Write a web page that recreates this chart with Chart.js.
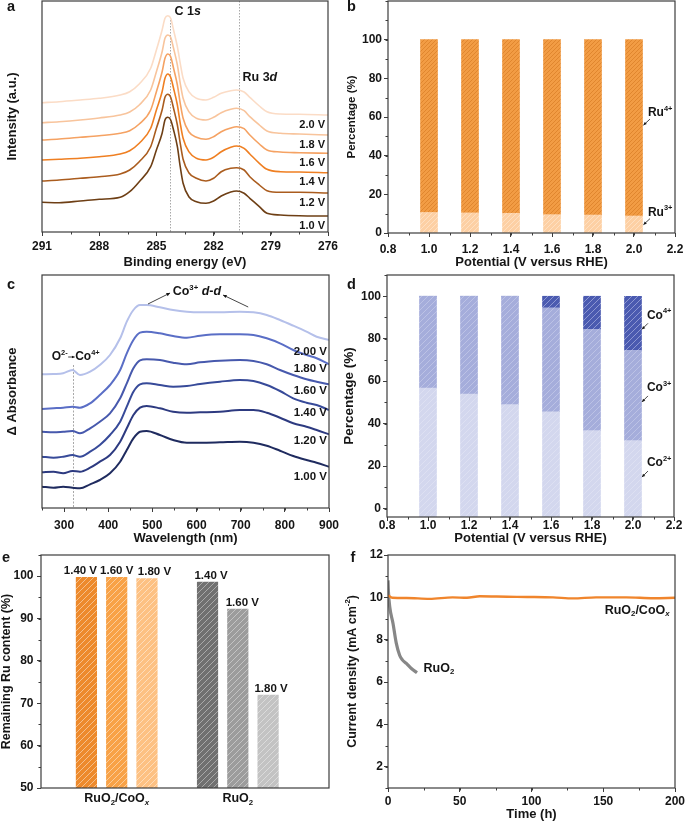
<!DOCTYPE html>
<html>
<head>
<meta charset="utf-8">
<script src="https://cdn.jsdelivr.net/npm/chart.js@4.4.1/dist/chart.umd.min.js"></script>
<style>
  body { margin: 0; background: #fff; }
  #fig { position: relative; width: 685px; height: 821px; overflow: hidden; background: #fff; }
  #fig canvas { position: absolute; }
</style>
</head>
<body>
<div id="fig">
  <canvas id="chartA" width="340" height="270" style="left:0;top:0"></canvas>
  <canvas id="chartB" width="345" height="270" style="left:340px;top:0"></canvas>
  <canvas id="chartC" width="340" height="275" style="left:0;top:270px"></canvas>
  <canvas id="chartD" width="345" height="275" style="left:340px;top:270px"></canvas>
  <canvas id="chartE" width="340" height="276" style="left:0;top:545px"></canvas>
  <canvas id="chartF" width="345" height="276" style="left:340px;top:545px"></canvas>
</div>
<script>
// ---- a : XPS C 1s / Ru 3d (a.u.) ----
const xpsEnergy = [291, 290.1, 289, 288, 286.9, 286.4, 285.9, 285.3, 285, 284.7, 284.55, 284.4, 284.25, 284.1, 283.9, 283.75,
                   283.6, 283.3, 282.9, 282.4, 282, 281.6, 281.1, 280.8, 280.4, 280.1, 279.6, 279.2, 278.5, 277.5, 276];
const xpsPotentials = ['1.0 V', '1.2 V', '1.4 V', '1.6 V', '1.8 V', '2.0 V'];
const xps10 = [29.7, 29.3, 31, 32.7, 34.7, 40.3, 50.3, 65.3, 82, 98.7, 112, 114.7, 112, 102, 85.3, 65.3,
               48.7, 35.3, 30.3, 28.7, 31, 36, 40, 41, 38.7, 33.7, 25.3, 18.7, 17, 16.3, 16];
const xps12 = [51, 52, 53.7, 55.3, 58, 62, 70.3, 85.3, 103.7, 122, 134.7, 137.7, 134.7, 123.7, 107, 88.7,
               72.7, 59.3, 53.7, 51, 53.7, 60.3, 63.7, 64.3, 62, 55.3, 47, 41.3, 39.7, 39.7, 39];
const xps14 = [72, 72.7, 73.7, 75.3, 78, 81.3, 88.7, 103.7, 122, 140.3, 153.7, 158, 154.7, 143.7, 127, 108.7,
               93.7, 80.3, 73.7, 72, 74.7, 80.3, 84.7, 86, 83.7, 78, 68.7, 62.7, 60.3, 60, 59.3];
const xps16 = [92, 93, 94.7, 96.3, 98.7, 101.3, 108, 122, 140.3, 160.3, 173.7, 178, 175.3, 163.7, 147, 128.7,
               113.7, 100.3, 94.7, 92.7, 95.3, 100.3, 104, 105.3, 103.3, 97, 88, 82, 80, 79.3, 78.7];
const xps18 = [109.3, 110.3, 112, 114, 117, 120, 127, 142, 160.3, 180.3, 193.7, 197, 194.7, 183.7, 167, 148.7,
               133.7, 120.3, 113.7, 112, 114.7, 119.3, 122.7, 123.7, 121.3, 115.3, 107, 101, 98.7, 98, 97];
const xps20 = [129.3, 130.3, 132, 133.7, 137, 140.3, 148, 163.7, 182, 202, 213.7, 216.3, 213.7, 202, 185.3, 168.7,
               153.7, 140.3, 133.7, 132, 134.7, 138.7, 141.3, 142, 140, 134.7, 126, 120.3, 118, 117.7, 117];
const xpsTicks = [291, 288, 285, 282, 279, 276];

// ---- b : Ru valence share (%) ----
const rhePotential = [1.0, 1.2, 1.4, 1.6, 1.8, 2.0];
const rheTicks = [0.8, 1.0, 1.2, 1.4, 1.6, 1.8, 2.0, 2.2];
const ru3Share = [10.6, 10.4, 10.2, 9.5, 9.3, 8.8];
const ru4Share = [89.4, 89.6, 89.8, 90.5, 90.7, 91.2];
const shareTicks = [0, 20, 40, 60, 80, 100];

// ---- c : UV-vis difference spectra ----
const uvWavelength = [250, 276, 298, 319, 336, 359, 381, 404, 427, 442, 457, 472, 487,
                      517, 547, 578, 608, 653, 698, 729, 759, 789, 819, 849, 872, 900];
const uvPotentials = ['1.00 V', '1.20 V', '1.40 V', '1.60 V', '1.80 V', '2.00 V'];
const uv100 = [21.3, 20.3, 21.3, 20.3, 19.7, 23.7, 28, 34.7, 46.3, 58, 69.7, 76.3, 77,
               73, 68, 65.3, 65.3, 65.7, 66.3, 65.3, 62.3, 57.3, 52, 48, 45.3, 41.3];
const uv120 = [35.7, 36.3, 34.7, 37, 36.3, 40.3, 46.3, 53, 66.3, 79.7, 93, 100.3, 102,
               99.7, 96.3, 95.3, 95.7, 96.3, 98, 98, 95.3, 90.3, 84.7, 81.3, 78, 73.7];
const uv140 = [51.3, 50.3, 51.3, 53, 51.3, 56.3, 63, 73, 86.3, 101.3, 116.3, 123.7, 124.7,
               123, 121.3, 122, 124, 126.3, 128, 127, 123, 117, 109.7, 105.3, 103, 98];
const uv160 = [76.3, 75.7, 76.3, 77, 74.7, 79.7, 86.3, 94.7, 109.7, 124.7, 139.7, 147.7, 148.7,
               148, 145.3, 143.7, 145.7, 147.3, 148, 147, 143.7, 138, 133, 128.7, 126.3, 123.7];
const uv180 = [99, 99.7, 100.3, 101.3, 100.3, 104.7, 113, 123, 138, 154.7, 168, 175.3, 176.3,
               174.7, 172, 170.3, 172.3, 173.7, 173.7, 173, 169.7, 164.7, 158, 153, 149.7, 143.7];
const uv200 = [133.7, 134, 134.7, 138, 133, 136.3, 143, 153, 169.7, 186.3, 198, 203, 203,
               200.7, 198, 196.3, 195.7, 195.7, 196.3, 195.7, 193, 188, 182.3, 176.3, 171.3, 168];
const uvTicks = [300, 400, 500, 600, 700, 800, 900];

// ---- d : Co valence share (%) ----
const co2Share = [56.7, 53.9, 48.9, 45.6, 36.7, 32.0];
const co3Share = [43.3, 46.1, 51.1, 48.9, 47.7, 42.5];
const co4Share = [0, 0, 0, 5.5, 15.6, 25.5];

// ---- e : remaining Ru (%) ----
const eGroups = ['RuO_{2}/CoO_{*x*}', 'RuO_{2}'];
const ePotentials = ['1.40 V', '1.60 V', '1.80 V'];
const ruCoRemaining = [99.8, 99.8, 99.5];
const ruO2Remaining = [98.7, 92.3, 72.0];
const remainTicks = [50, 60, 70, 80, 90, 100];

// ---- f : chronopotentiometry ----
const ruCoTime = [0, 3, 13, 29, 45, 55, 64, 83, 97, 115, 129, 145, 166, 185, 200];
const ruCoCurrent = [10.1, 9.98, 9.97, 9.93, 10.0, 9.98, 10.05, 10.03, 10.02, 10.0, 9.95, 10.0, 10.0, 9.96, 9.98];
const ruO2Time = [0, 0.3, 1.2, 3.5, 5.8, 8.1, 10, 12.8, 16.3, 20.2];
const ruO2Current = [10.8, 10.26, 9.56, 8.77, 7.83, 7.27, 7.05, 6.88, 6.64, 6.44];
const timeTicks = [0, 50, 100, 150, 200];
const currentTicks = [2, 4, 6, 8, 10, 12];

const AXIS = '#3c3c3c';
const TEXT = '#151515';
const FONT = "'Liberation Sans', Arial, sans-serif";
Chart.defaults.font.family = FONT;
Chart.defaults.color = TEXT;

// little markup: _{sub} ^{sup} *italic*
function parseRich(str) {
  const parts = [];
  const re = /(_\{[^}]*\}|\^\{[^}]*\}|\*[^*]*\*)/g;
  let last = 0, m;
  while ((m = re.exec(str))) {
    if (m.index > last) parts.push({t: str.slice(last, m.index)});
    const tok = m[0];
    if (tok[0] === '*') {
      parts.push({t: tok.slice(1, -1), it: true});
    } else {
      let inner = tok.slice(2, -1), it = false;
      if (inner[0] === '*') { inner = inner.slice(1, -1); it = true; }
      parts.push({t: inner, it: it, pos: tok[0] === '_' ? 'sub' : 'sup'});
    }
    last = re.lastIndex;
  }
  if (last < str.length) parts.push({t: str.slice(last)});
  return parts;
}

function richText(ctx, str, x, y, size, align, rot) {
  const parts = parseRich(str);
  const fontOf = p => (p.it ? 'italic ' : '') + 'bold ' + (p.pos ? size * 0.62 : size) + 'px ' + FONT;
  let w = 0;
  parts.forEach(p => { ctx.font = fontOf(p); p.w = ctx.measureText(p.t).width; w += p.w; });
  ctx.save();
  ctx.translate(x, y);
  if (rot) ctx.rotate(rot);
  let cx = align === 'center' ? -w / 2 : align === 'right' ? -w : 0;
  ctx.fillStyle = TEXT;
  ctx.textBaseline = 'middle';
  ctx.textAlign = 'left';
  parts.forEach(p => {
    ctx.font = fontOf(p);
    const dy = p.pos === 'sup' ? -size * 0.36 : p.pos === 'sub' ? size * 0.3 : 0;
    ctx.fillText(p.t, cx, dy);
    cx += p.w;
  });
  ctx.restore();
  return w;
}

function arrow(ctx, x1, y1, x2, y2, head) {
  const ang = Math.atan2(y2 - y1, x2 - x1);
  head = head || 4;
  ctx.save();
  ctx.strokeStyle = TEXT;
  ctx.fillStyle = TEXT;
  ctx.lineWidth = 0.8;
  ctx.beginPath(); ctx.moveTo(x1, y1); ctx.lineTo(x2, y2); ctx.stroke();
  ctx.beginPath();
  ctx.moveTo(x2, y2);
  ctx.lineTo(x2 - head * Math.cos(ang - 0.45), y2 - head * Math.sin(ang - 0.45));
  ctx.lineTo(x2 - head * Math.cos(ang + 0.45), y2 - head * Math.sin(ang + 0.45));
  ctx.closePath(); ctx.fill();
  ctx.restore();
}

// diagonal "/" hatch fill
function hatch(base, line, gap) {
  const c = document.createElement('canvas');
  c.width = gap; c.height = gap;
  const g = c.getContext('2d');
  g.fillStyle = base; g.fillRect(0, 0, gap, gap);
  g.strokeStyle = line; g.lineWidth = 1;
  g.beginPath();
  g.moveTo(-1, gap + 1); g.lineTo(gap + 1, -1);
  g.moveTo(-1, 1); g.lineTo(1, -1);
  g.moveTo(gap - 1, gap + 1); g.lineTo(gap + 1, gap - 1);
  g.stroke();
  return g.createPattern(c, 'repeat');
}

function axis(c) {
  const hasTicks = !!(c.ticks && c.ticks.length);
  return {
    type: 'linear', min: c.min, max: c.max, reverse: !!c.reverse, offset: false, stacked: !!c.stacked,
    afterFit(s) {
      if (s.isHorizontal()) s.height = c.size; else s.width = c.size;
      s.paddingLeft = s.paddingRight = s.paddingTop = s.paddingBottom = 0;
    },
    afterBuildTicks(s) { s.ticks = (c.ticks || []).map(value => ({value})); },
    border: {display: false},
    grid: {display: hasTicks, drawOnChartArea: false, drawTicks: true, tickLength: 4, tickWidth: 1, color: AXIS, offset: false},
    ticks: {
      display: hasTicks && c.labels !== false, padding: c.pad || 0, color: TEXT, autoSkip: false, maxRotation: 0,
      font: {family: FONT, size: 12, weight: 'bold', lineHeight: 1},
      callback: c.fmt || (v => v)
    }
  };
}

function opts(padding, scales) {
  return {
    responsive: false, animation: false, events: [],
    layout: {padding},
    plugins: {legend: {display: false}, tooltip: {enabled: false}},
    scales
  };
}

// minor ticks, frame and annotation text
function decor(minor, over, under) {
  return {
    id: 'decor',
    beforeDatasetsDraw(chart) {
      if (under) under(chart, chart.ctx, chart.chartArea, chart.scales.x, chart.scales.y);
    },
    afterDraw(chart) {
      const {ctx, chartArea: a} = chart;
      const xs = chart.scales.x, ys = chart.scales.y;
      ctx.save();
      ctx.strokeStyle = AXIS;
      ctx.lineWidth = 1;
      ctx.beginPath();
      if (minor.x) {
        for (let v = minor.x[0]; v <= Math.max(xs.min, xs.max) + 1e-6; v += minor.x[1]) {
          const p = Math.round(xs.getPixelForValue(v)) + 0.5;
          ctx.moveTo(p, a.bottom); ctx.lineTo(p, a.bottom + 2.5);
        }
      }
      if (minor.y) {
        for (let v = minor.y[0]; v <= ys.max + 1e-6; v += minor.y[1]) {
          const p = Math.round(ys.getPixelForValue(v)) + 0.5;
          ctx.moveTo(a.left, p); ctx.lineTo(a.left - 2.5, p);
        }
      }
      ctx.stroke();
      ctx.lineWidth = 1.2;
      ctx.strokeRect(a.left, a.top, a.right - a.left, a.bottom - a.top);
      ctx.restore();
      if (over) over(chart, ctx, a, xs, ys);
    }
  };
}

const fx = v => v.toFixed(1);

// ---------- a ----------
const xpsCurves = [xps10, xps12, xps14, xps16, xps18, xps20];
const xpsColors = ['#6e3f15', '#aa5c1e', '#ef7f22', '#f5a263', '#f8c49c', '#fbdcc6'];
new Chart(document.getElementById('chartA'), {
  type: 'line',
  data: {
    datasets: xpsCurves.map((ys, i) => ({
      label: xpsPotentials[i],
      data: xpsEnergy.map((x, j) => ({x, y: ys[j]})),
      borderColor: xpsColors[i], borderWidth: 1.6, pointRadius: 0, cubicInterpolationMode: 'monotone'
    }))
  },
  options: opts({left: 0, top: 1, right: 12, bottom: 0}, {
    x: axis({min: 276, max: 291, reverse: true, size: 38, ticks: xpsTicks, pad: 5}),
    y: axis({min: 0, max: 231, size: 42})
  }),
  plugins: [decor({x: [276, 1.5]}, (chart, ctx, a, xs, ys) => {
    const c1 = Math.round(xs.getPixelForValue(284.3)) + 0.5;
    const ru = Math.round(xs.getPixelForValue(280.67)) + 0.5;
    richText(ctx, 'C 1*s*', c1 + 4, ys.getPixelForValue(220), 12.5);
    richText(ctx, 'Ru 3*d*', ru + 3, ys.getPixelForValue(154), 12.5);
    xpsCurves.forEach((c, i) => {
      richText(ctx, xpsPotentials[i], a.right - 3, ys.getPixelForValue(c[c.length - 1]) + 9.5, 11, 'right');
    });
    richText(ctx, 'Binding energy (eV)', (a.left + a.right) / 2, 262, 13, 'center');
    richText(ctx, 'Intensity (a.u.)', 12.5, (a.top + a.bottom) / 2, 13, 'center', -Math.PI / 2);
    richText(ctx, 'a', 11, 7, 14.5, 'center');
  }, (chart, ctx, a, xs, ys) => {
    const c1 = Math.round(xs.getPixelForValue(284.3)) + 0.5;
    const ru = Math.round(xs.getPixelForValue(280.67)) + 0.5;
    ctx.save();
    ctx.strokeStyle = '#a8a8a8'; ctx.lineWidth = 1; ctx.setLineDash([1.5, 1.5]);
    ctx.beginPath();
    ctx.moveTo(c1, ys.getPixelForValue(212)); ctx.lineTo(c1, a.bottom);
    ctx.moveTo(ru, a.top); ctx.lineTo(ru, a.bottom);
    ctx.stroke();
    ctx.restore();
  })]
});

// ---------- b ----------
new Chart(document.getElementById('chartB'), {
  type: 'bar',
  data: {
    datasets: [
      {label: 'Ru3+', data: rhePotential.map((x, i) => ({x, y: ru3Share[i]})), backgroundColor: hatch('#fdd0a4', '#fee0c2', 5), barThickness: 17},
      {label: 'Ru4+', data: rhePotential.map((x, i) => ({x, y: ru4Share[i]})), backgroundColor: hatch('#f29c44', '#e0862e', 4), barThickness: 17}
    ]
  },
  options: opts({left: 0, top: 1, right: 10, bottom: 0}, {
    x: axis({min: 0.8, max: 2.2, size: 37, ticks: rheTicks, pad: 7, fmt: fx, stacked: true}),
    y: axis({min: 0, max: 120, size: 48, ticks: shareTicks, pad: 2, stacked: true})
  }),
  plugins: [decor({x: [0.8, 0.1], y: [0, 10]}, (chart, ctx, a, xs, ys) => {
    const tx = xs.getPixelForValue(2.068);
    [['Ru^{4+}', 62], ['Ru^{3+}', 10.5]].forEach(([t, v]) => {
      const ty = ys.getPixelForValue(v);
      richText(ctx, t, tx, ty, 12);
      arrow(ctx, tx + 2, ty + 6, tx - 4.5, ty + 12, 3.5);
    });
    richText(ctx, 'Potential (V versus RHE)', (a.left + a.right) / 2, 262, 13, 'center');
    richText(ctx, 'Percentage (%)', 11.5, (a.top + a.bottom) / 2, 11.5, 'center', -Math.PI / 2);
    richText(ctx, 'b', 11.5, 7, 14.5, 'center');
  })]
});

// ---------- c ----------
const uvCurves = [uv100, uv120, uv140, uv160, uv180, uv200];
const uvColors = ['#1f2b5f', '#2d3a80', '#374a99', '#4759ad', '#5a6ec6', '#b5c0ea'];
const uvTagAt = [31, 67, 95, 117, 139, 156];
new Chart(document.getElementById('chartC'), {
  type: 'line',
  data: {
    datasets: uvCurves.map((ys, i) => ({
      label: uvPotentials[i],
      data: uvWavelength.map((x, j) => ({x, y: ys[j]})),
      borderColor: uvColors[i], borderWidth: 2, pointRadius: 0, cubicInterpolationMode: 'monotone'
    }))
  },
  options: opts({left: 0, top: 5, right: 11, bottom: 0}, {
    x: axis({min: 250, max: 900, size: 37, ticks: uvTicks, pad: 8}),
    y: axis({min: 0, max: 233, size: 42})
  }),
  plugins: [decor({x: [250, 50]}, (chart, ctx, a, xs, ys) => {
    uvPotentials.forEach((p, i) => richText(ctx, p, a.right - 2, ys.getPixelForValue(uvTagAt[i]), 11.5, 'right'));
    const ox = xs.getPixelForValue(272), oy = ys.getPixelForValue(151);
    const w1 = richText(ctx, 'O^{2-}', ox, oy, 12);
    arrow(ctx, ox + w1 + 0.5, oy, ox + w1 + 7, oy, 3);
    richText(ctx, 'Co^{4+}', ox + w1 + 7.5, oy, 12);
    richText(ctx, 'Co^{3+} *d*-*d*', xs.getPixelForValue(546), ys.getPixelForValue(216), 12.5);
    arrow(ctx, xs.getPixelForValue(490), ys.getPixelForValue(204), xs.getPixelForValue(540), ys.getPixelForValue(215), 4);
    arrow(ctx, xs.getPixelForValue(717), ys.getPixelForValue(201), xs.getPixelForValue(660), ys.getPixelForValue(213), 4);
    richText(ctx, 'Wavelength (nm)', (a.left + a.right) / 2, 268, 13, 'center');
    richText(ctx, '\u0394 Absorbance', 12, (a.top + a.bottom) / 2, 13, 'center', -Math.PI / 2);
    richText(ctx, 'c', 11, 15, 14.5, 'center');
  }, (chart, ctx, a, xs, ys) => {
    const p = Math.round(xs.getPixelForValue(320)) + 0.5;
    ctx.save();
    ctx.strokeStyle = '#a8a8a8'; ctx.lineWidth = 1; ctx.setLineDash([2, 1.5]);
    ctx.beginPath(); ctx.moveTo(p, ys.getPixelForValue(143)); ctx.lineTo(p, a.bottom); ctx.stroke();
    ctx.restore();
  })]
});

// ---------- d ----------
new Chart(document.getElementById('chartD'), {
  type: 'bar',
  data: {
    datasets: [
      {label: 'Co2+', data: rhePotential.map((x, i) => ({x, y: co2Share[i]})), backgroundColor: hatch('#d3d7ee', '#dde0f2', 6), barThickness: 17, base: -4},
      {label: 'Co3+', data: rhePotential.map((x, i) => ({x, y: co3Share[i]})), backgroundColor: hatch('#a5addb', '#bcc2e5', 6), barThickness: 17},
      {label: 'Co4+', data: rhePotential.map((x, i) => ({x, y: co4Share[i]})), backgroundColor: hatch('#4a5ab0', '#8d97d2', 6), barThickness: 17}
    ]
  },
  options: opts({left: 0, top: 5, right: 11, bottom: 0}, {
    x: axis({min: 0.8, max: 2.2, size: 28, ticks: rheTicks, pad: -1, fmt: fx, stacked: true}),
    y: axis({min: -4, max: 110, size: 47, ticks: shareTicks, pad: 2, stacked: true})
  }),
  plugins: [decor({x: [0.8, 0.1], y: [0, 10]}, (chart, ctx, a, xs, ys) => {
    const tx = xs.getPixelForValue(2.068);
    [['Co^{4+}', 91], ['Co^{3+}', 56.8], ['Co^{2+}', 21.4]].forEach(([t, v]) => {
      const ty = ys.getPixelForValue(v);
      richText(ctx, t, tx, ty, 12);
      arrow(ctx, tx + 1, ty + 8, tx - 5, ty + 14, 3.5);
    });
    richText(ctx, 'Potential (V versus RHE)', (a.left + a.right) / 2, 268, 13, 'center');
    richText(ctx, 'Percentage (%)', 9.5, (a.top + a.bottom) / 2, 13.5, 'center', -Math.PI / 2);
    richText(ctx, 'd', 11.5, 15, 14.5, 'center');
  })]
});

// ---------- e ----------
const eOrange = ['#ed8a2c', '#f8a247', '#fdc183'];
const eGray = ['#707070', '#9c9c9c', '#c3c3c3'];
const eNudge = [[-6, 0, 7.5], [3.5, 4.5, 3]];
new Chart(document.getElementById('chartE'), {
  type: 'bar',
  data: {
    datasets: ePotentials.map((p, i) => ({
      label: p,
      data: [{x: 0, y: ruCoRemaining[i]}, {x: 1, y: ruO2Remaining[i]}],
      backgroundColor: [hatch(eOrange[i], 'rgba(255,255,255,0.45)', 6), hatch(eGray[i], 'rgba(255,255,255,0.4)', 6)],
      categoryPercentage: 0.75, barPercentage: 0.7
    }))
  },
  options: opts({left: 0, top: 10, right: 11, bottom: 0}, {
    x: axis({min: -0.625, max: 1.753, size: 33}),
    y: axis({min: 50, max: 105, size: 41, ticks: remainTicks, pad: 3.5})
  }),
  plugins: [decor({y: [50, 5]}, (chart, ctx, a, xs, ys) => {
    ePotentials.forEach((p, d) => {
      chart.getDatasetMeta(d).data.forEach((bar, g) => {
        richText(ctx, p, bar.x + eNudge[g][d], bar.y - 6, 11.5, 'center');
      });
    });
    eGroups.forEach((g, i) => richText(ctx, g, xs.getPixelForValue(i), 254, 12.5, 'center'));
    richText(ctx, 'Remaining Ru content (%)', 6.5, (a.top + a.bottom) / 2, 12.5, 'center', -Math.PI / 2);
    richText(ctx, 'e', 6, 13, 14.5, 'center');
  })]
});

// ---------- f ----------
new Chart(document.getElementById('chartF'), {
  type: 'line',
  data: {
    datasets: [
      {label: 'RuO2/CoOx', data: ruCoTime.map((x, i) => ({x, y: ruCoCurrent[i]})), borderColor: '#f0852c', borderWidth: 2.4, pointRadius: 0, cubicInterpolationMode: 'monotone'},
      {label: 'RuO2', data: ruO2Time.map((x, i) => ({x, y: ruO2Current[i]})), borderColor: '#878787', borderWidth: 3.2, pointRadius: 0, cubicInterpolationMode: 'monotone'}
    ]
  },
  options: opts({left: 0, top: 10, right: 10, bottom: 0}, {
    x: axis({min: 0, max: 200, size: 33, ticks: timeTicks, pad: 4}),
    y: axis({min: 1, max: 12, size: 48, ticks: currentTicks, pad: 1})
  }),
  plugins: [decor({x: [0, 25], y: [1, 1]}, (chart, ctx, a, xs, ys) => {
    richText(ctx, 'RuO_{2}/CoO_{*x*}', xs.getPixelForValue(151), ys.getPixelForValue(9.4), 12.5);
    richText(ctx, 'RuO_{2}', xs.getPixelForValue(24.8), ys.getPixelForValue(6.66), 12.5);
    richText(ctx, 'Time (h)', (a.left + a.right) / 2, 269.5, 13, 'center');
    richText(ctx, 'Current density (mA cm^{-2})', 12.5, (a.top + a.bottom) / 2, 12.5, 'center', -Math.PI / 2);
    richText(ctx, 'f', 13, 13, 14.5, 'center');
  })]
});
</script>
</body>
</html>
